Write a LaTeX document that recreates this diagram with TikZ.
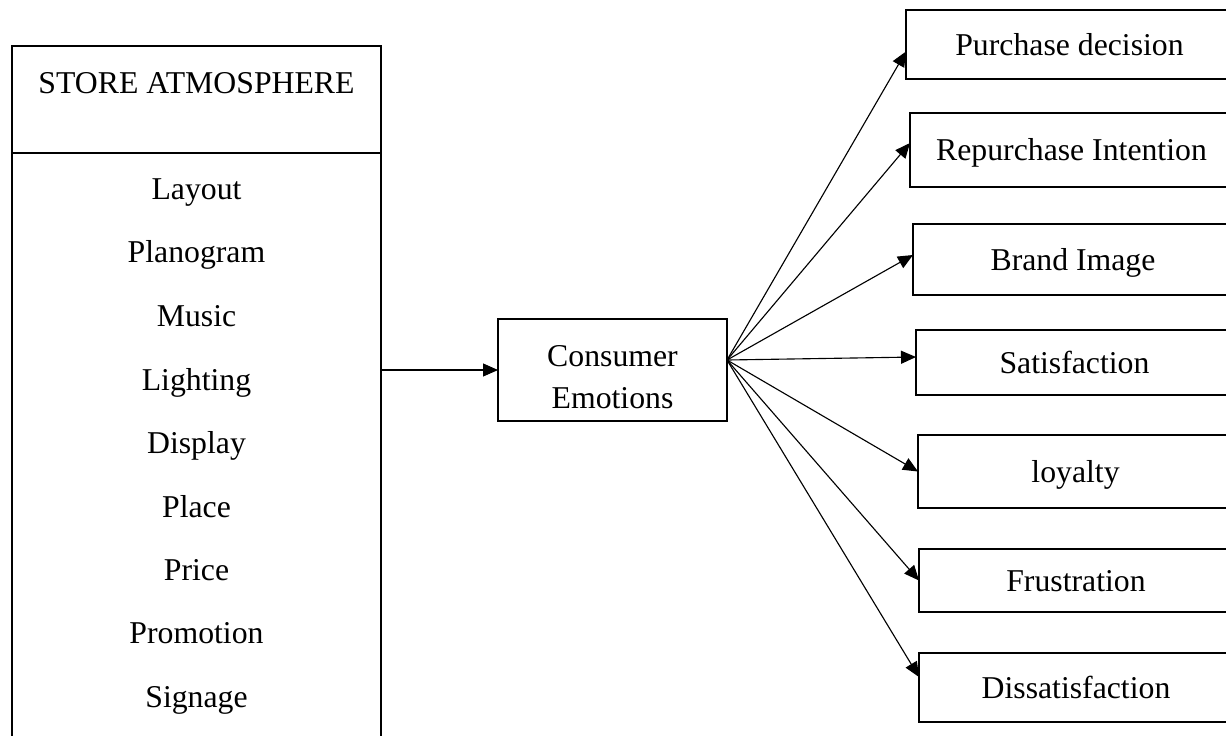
\documentclass[tikz,border=0pt]{standalone}
\usepackage{fontspec}
\setmainfont{Liberation Serif}
\usetikzlibrary{arrows.meta,calc}
\tikzset{
  thickbox/.style={draw, line width=0.7pt, inner sep=0pt, outer sep=0pt},
  thinbox/.style={draw, line width=0.45pt, inner sep=0pt, outer sep=0pt},
  capc/.style={text height=8.4pt, text depth=0pt},
  lbl/.style={anchor=base, inner sep=0pt},
  arr/.style={line width=0.45pt, -{Triangle[length=6pt, width=5.2pt]}},
}
\begin{document}
\begin{tikzpicture}[x=0.4pt, y=-0.4pt, font=\fontsize{12.7}{16.8}\selectfont]
\useasboundingbox (0,0) rectangle (1226,735);
\clip (0,0) rectangle (1226,735);
% left box
\node[thickbox, anchor=north west, minimum width=147.6pt, minimum height=42.8pt] (hd) at (12,46) {};
\node[thickbox, anchor=north west, minimum width=147.6pt, minimum height=242.8pt] (lb) at (hd.south west) {};
\node[lbl] (t0) at (196.5,93) {STORE ATMOSPHERE};
\node[lbl] (l1) at (196.5,199) {Layout};
\node[lbl] (l2) at (196.5,262) {Planogram};
\node[lbl] (l3) at (196.5,326) {Music};
\node[lbl] (l4) at (196.5,390) {Lighting};
\node[lbl] (l5) at (196.5,453) {Display};
\node[lbl] (l6) at (196.5,517) {Place};
\node[lbl] (l7) at (196.5,580) {Price};
\node[lbl] (l8) at (196.5,643) {Promotion};
\node[lbl] (l9) at (196.5,707) {Signage};
% central box
\node[thickbox, align=center, minimum width=91.6pt, minimum height=40.8pt,
      text height=30.4pt, text depth=0pt] (ce) at (612.5,370) {Consumer\\Emotions};
% right boxes
\node[thickbox, capc, anchor=west, minimum width=130.8pt, minimum height=27.6pt] (b1) at (906,44.5) {Purchase decision};
\node[thickbox, capc, anchor=west, minimum width=129.2pt, minimum height=29.6pt] (b2) at (910,150) {Repurchase Intention};
\node[thickbox, capc, anchor=west, minimum width=128pt, minimum height=28.4pt] (b3) at (913,259.5) {Brand Image};
\node[thickbox, capc, anchor=west, minimum width=126.8pt, minimum height=26pt] (b4) at (916,362.5) {Satisfaction};
\node[thickbox, capc, anchor=west, minimum width=126pt, minimum height=29.2pt] (b5) at (918,471.5) {loyalty};
\node[thinbox, capc, anchor=west, minimum width=125.6pt, minimum height=25.2pt] (b6) at (919,580.5) {Frustration};
\node[thinbox, capc, anchor=west, minimum width=125.6pt, minimum height=27.6pt] (b7) at (919,687.5) {Dissatisfaction};
% connectors
\draw[arr] (lb.east |- ce.west) -- (ce.west);
\coordinate (fan) at ($(ce.east)+(0,-10)$);
\draw[arr] (fan) -- ($(b1.west)+(0,7)$);
\draw[arr] (fan) -- ($(b2.west)+(0,-7)$);
\draw[arr] (fan) -- ($(b3.west)+(0,-4.5)$);
\draw[arr] (fan) -- ($(b4.west)+(0,-5.5)$);
\draw[arr] (fan) -- (b5.west);
\draw[arr] (fan) -- (b6.west);
\draw[arr] (fan) -- ($(b7.west)+(0,-10.5)$);
\end{tikzpicture}
\end{document}
